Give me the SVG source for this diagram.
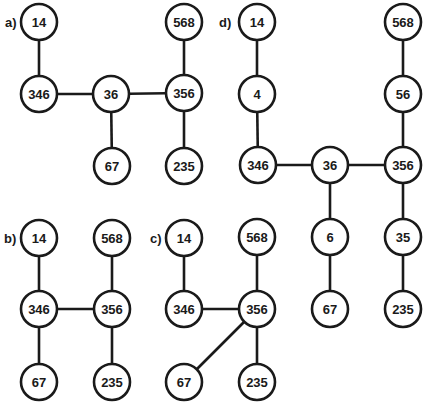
<svg xmlns="http://www.w3.org/2000/svg" width="424" height="406" viewBox="0 0 424 406">
<style>
.n circle{fill:#fff;stroke:#1a1a1a;stroke-width:2.6}
.n text{font-family:"Liberation Sans",Arial,sans-serif;font-weight:bold;font-size:13px;fill:#1a1a1a;text-anchor:middle;dominant-baseline:central}
.lab{font-family:"Liberation Sans",Arial,sans-serif;font-weight:bold;font-size:13px;fill:#1a1a1a}
#edges line{stroke:#1a1a1a;stroke-width:2.6}
</style>
<rect width="424" height="406" fill="#fff"/>
<g id="edges">
<line x1="39" y1="22" x2="39" y2="94"/>
<line x1="39" y1="94" x2="111" y2="94"/>
<line x1="111" y1="94" x2="184" y2="93"/>
<line x1="184" y1="22" x2="184" y2="93"/>
<line x1="111" y1="94" x2="112" y2="166"/>
<line x1="184" y1="93" x2="184" y2="166"/>
<line x1="257" y1="22" x2="257" y2="94"/>
<line x1="257" y1="94" x2="258" y2="165"/>
<line x1="258" y1="165" x2="330" y2="165"/>
<line x1="330" y1="165" x2="403" y2="165"/>
<line x1="403" y1="22" x2="403" y2="94"/>
<line x1="403" y1="94" x2="403" y2="165"/>
<line x1="330" y1="165" x2="330" y2="237"/>
<line x1="330" y1="237" x2="330" y2="309"/>
<line x1="403" y1="165" x2="403" y2="237"/>
<line x1="403" y1="237" x2="403" y2="309"/>
<line x1="39" y1="238" x2="39" y2="309"/>
<line x1="39" y1="309" x2="112" y2="309"/>
<line x1="39" y1="309" x2="39" y2="382"/>
<line x1="112" y1="238" x2="112" y2="309"/>
<line x1="112" y1="309" x2="112" y2="382"/>
<line x1="184" y1="238" x2="184" y2="309"/>
<line x1="184" y1="309" x2="257" y2="309"/>
<line x1="257" y1="237" x2="257" y2="309"/>
<line x1="257" y1="309" x2="257" y2="382"/>
<line x1="184" y1="382" x2="257" y2="309"/>
</g>
<text class="lab" x="5" y="27">a)</text>
<text class="lab" x="219" y="27">d)</text>
<text class="lab" x="4" y="243">b)</text>
<text class="lab" x="150" y="243">c)</text>
<g id="a14" class="n"><circle cx="39" cy="22" r="18"/><text x="39" y="22">14</text></g>
<g id="a346" class="n"><circle cx="39" cy="94" r="18"/><text x="39" y="94">346</text></g>
<g id="a36" class="n"><circle cx="111" cy="94" r="18"/><text x="111" y="94">36</text></g>
<g id="a356" class="n"><circle cx="184" cy="93" r="18"/><text x="184" y="93">356</text></g>
<g id="a568" class="n"><circle cx="184" cy="22" r="18"/><text x="184" y="22">568</text></g>
<g id="a67" class="n"><circle cx="112" cy="166" r="18"/><text x="112" y="166">67</text></g>
<g id="a235" class="n"><circle cx="184" cy="166" r="18"/><text x="184" y="166">235</text></g>
<g id="d14" class="n"><circle cx="257" cy="22" r="18"/><text x="257" y="22">14</text></g>
<g id="d4" class="n"><circle cx="257" cy="94" r="18"/><text x="257" y="94">4</text></g>
<g id="d346" class="n"><circle cx="258" cy="165" r="18"/><text x="258" y="165">346</text></g>
<g id="d36" class="n"><circle cx="330" cy="165" r="18"/><text x="330" y="165">36</text></g>
<g id="d356" class="n"><circle cx="403" cy="165" r="18"/><text x="403" y="165">356</text></g>
<g id="d568" class="n"><circle cx="403" cy="22" r="18"/><text x="403" y="22">568</text></g>
<g id="d56" class="n"><circle cx="403" cy="94" r="18"/><text x="403" y="94">56</text></g>
<g id="d6" class="n"><circle cx="330" cy="237" r="18"/><text x="330" y="237">6</text></g>
<g id="d67" class="n"><circle cx="330" cy="309" r="18"/><text x="330" y="309">67</text></g>
<g id="d35" class="n"><circle cx="403" cy="237" r="18"/><text x="403" y="237">35</text></g>
<g id="d235" class="n"><circle cx="403" cy="309" r="18"/><text x="403" y="309">235</text></g>
<g id="b14" class="n"><circle cx="39" cy="238" r="18"/><text x="39" y="238">14</text></g>
<g id="b346" class="n"><circle cx="39" cy="309" r="18"/><text x="39" y="309">346</text></g>
<g id="b67" class="n"><circle cx="39" cy="382" r="18"/><text x="39" y="382">67</text></g>
<g id="b568" class="n"><circle cx="112" cy="238" r="18"/><text x="112" y="238">568</text></g>
<g id="b356" class="n"><circle cx="112" cy="309" r="18"/><text x="112" y="309">356</text></g>
<g id="b235" class="n"><circle cx="112" cy="382" r="18"/><text x="112" y="382">235</text></g>
<g id="c14" class="n"><circle cx="184" cy="238" r="18"/><text x="184" y="238">14</text></g>
<g id="c346" class="n"><circle cx="184" cy="309" r="18"/><text x="184" y="309">346</text></g>
<g id="c67" class="n"><circle cx="184" cy="382" r="18"/><text x="184" y="382">67</text></g>
<g id="c568" class="n"><circle cx="257" cy="237" r="18"/><text x="257" y="237">568</text></g>
<g id="c356" class="n"><circle cx="257" cy="309" r="18"/><text x="257" y="309">356</text></g>
<g id="c235" class="n"><circle cx="257" cy="382" r="18"/><text x="257" y="382">235</text></g>
</svg>
